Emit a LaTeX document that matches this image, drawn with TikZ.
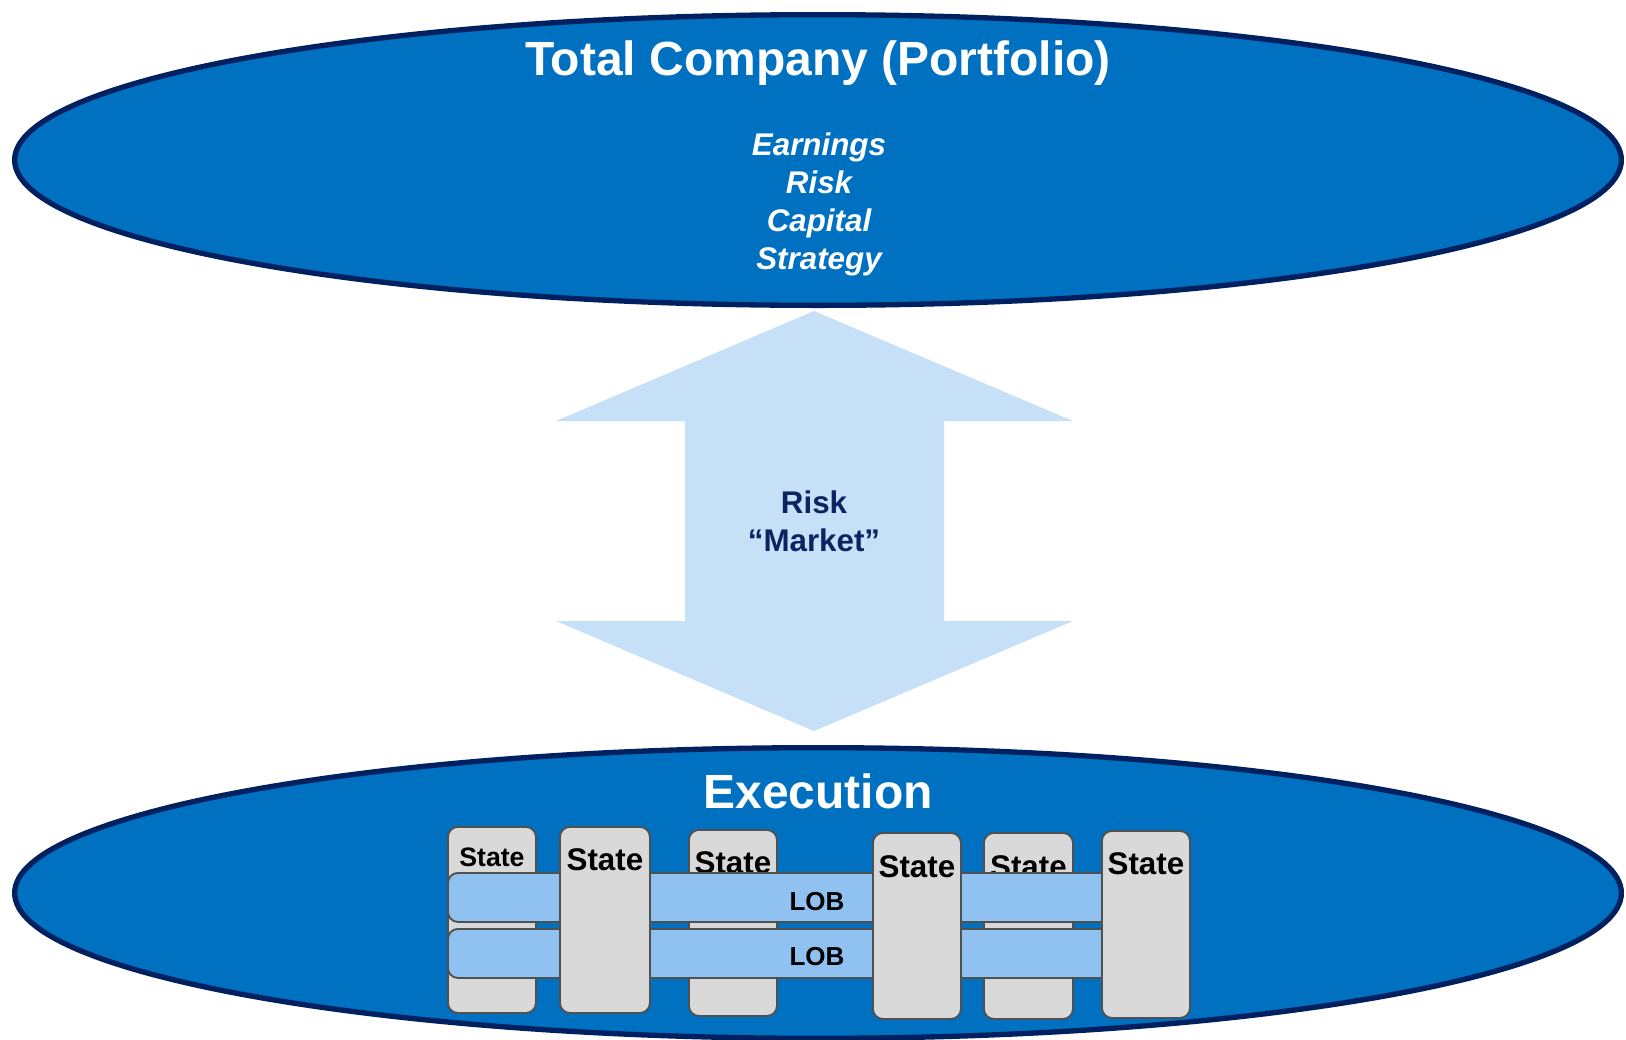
\documentclass[tikz,border=0pt]{standalone}
\usepackage{fontspec}
\setmainfont{Liberation Sans}
\usepackage{tikz}
\usetikzlibrary{shapes.geometric}

\definecolor{bubbleblue}{RGB}{0,112,192}
\definecolor{bubbleline}{RGB}{0,32,96}
\definecolor{arrowfill}{RGB}{198,224,247}
\definecolor{marketnavy}{RGB}{12,36,97}
\definecolor{statefill}{RGB}{217,217,217}
\definecolor{boxline}{RGB}{80,80,80}
\definecolor{lobfill}{RGB}{143,194,240}

\begin{document}
\begin{tikzpicture}[x=0.75pt,y=-0.75pt,
  bubble/.style={ellipse, draw=bubbleline, line width=4pt, fill=bubbleblue, inner sep=0pt, minimum width=1205pt, minimum height=218pt},
  heading/.style={anchor=base, text=white, font=\fontsize{36}{40}\selectfont\bfseries, inner sep=0pt},
  keyword/.style={anchor=base, text=white, font=\fontsize{23.5}{28}\selectfont\bfseries\itshape, inner sep=0pt},
  market/.style={anchor=base, text=marketnavy, font=\fontsize{23.5}{28}\selectfont\bfseries, inner sep=0pt},
  statebox/.style={rectangle, rounded corners=7.5pt, draw=boxline, line width=1.4pt, fill=statefill, anchor=north west, minimum width=66pt, minimum height=139.5pt, inner sep=0pt},
  statelabel/.style={anchor=base, font=\fontsize{23.5}{28}\selectfont\bfseries, inner sep=0pt},
  lobbar/.style={rectangle, rounded corners=7.5pt, draw=boxline, line width=1.4pt, fill=lobfill, anchor=north west, minimum width=520pt, minimum height=36.75pt, inner sep=0pt},
  loblabel/.style={anchor=base, font=\fontsize{19.5}{23}\selectfont\bfseries, inner sep=0pt}]
\useasboundingbox (0,0) rectangle (1626,1039);

% portfolio and execution levels
\node[bubble] (portfolio) at (818,160) {};
\node[bubble] (execution) at (818,893) {};

\node[heading] (ptitle) at (818,75) {Total Company (Portfolio)};
\foreach \w [count=\i] in {Earnings,Risk,Capital,Strategy}
  \node[keyword] (kw\i) at (819,116.7+38.3*\i) {\w};

% two-way block arrow
\fill[arrowfill] (814,311) -- (1073,421) -- (944,421) -- (944,621) -- (1073,621) -- (814,731)
  -- (556,621) -- (685,621) -- (685,421) -- (556,421) -- cycle;
\node[market] (risk) at (814,513) {Risk};
\node[market] (mkt) at (814,551) {“Market”};

\node[heading] (etitle) at (818,808) {Execution};

% states behind the LOB bars
\node[statebox] (s1) at (447,826) {};
\node[statelabel, font=\fontsize{20}{24}\selectfont\bfseries] at ([yshift=-30pt]s1.north) {State};
\node[statebox] (s3) at (688,829) {};
\node[statelabel] at ([yshift=-33pt]s3.north) {State};
\node[statebox, minimum width=66.75pt] (s5) at (983,832) {};
\node[statelabel] at ([yshift=-34pt]s5.north) {State};

% lines of business
\node[lobbar] (lob1) at (447,872) {};
\node[lobbar] (lob2) at (447,928) {};
\node[loblabel] at (817,910) {LOB};
\node[loblabel] at (817,965) {LOB};

% states in front
\node[statebox, minimum width=67.5pt] (s2) at (559,826) {};
\node[statelabel] at ([yshift=-33pt]s2.north) {State};
\node[statebox] (s4) at (872,832) {};
\node[statelabel] at ([yshift=-34pt]s4.north) {State};
\node[statebox, minimum height=140.25pt] (s6) at (1101,830) {};
\node[statelabel] at ([yshift=-33pt]s6.north) {State};
\end{tikzpicture}
\end{document}
